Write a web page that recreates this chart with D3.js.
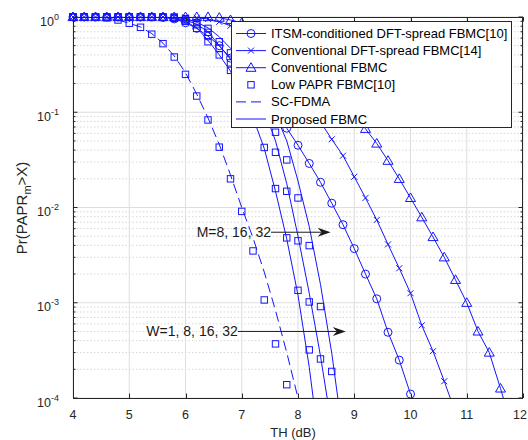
<!DOCTYPE html>
<html>
<head>
<meta charset="utf-8">
<script src="https://cdn.jsdelivr.net/npm/d3@7"></script>
<style>
  body { margin: 0; background: #fff; }
  svg { display: block; font-family: "Liberation Sans", Arial, sans-serif; }
</style>
</head>
<body>
<div id="chart"></div>
<script>
// TH (dB) sample points, every 0.2 dB; each series uses the first N of them
var thValues = [4, 4.2, 4.4, 4.6, 4.8, 5, 5.2, 5.4, 5.6, 5.8,
                6, 6.2, 6.4, 6.6, 6.8, 7, 7.2, 7.4, 7.6, 7.8,
                8, 8.2, 8.4, 8.6, 8.8, 9, 9.2, 9.4, 9.6, 9.8,
                10, 10.2, 10.4, 10.6, 10.8, 11, 11.2, 11.4, 11.6, 11.8, 12];

// Pr(PAPR_m > X)
var itsmDftFbmc = [1, 1, 1, 1, 1, 1, 1, 1, 0.99, 0.955,
                   0.87, 0.76, 0.63, 0.50, 0.37, 0.27, 0.20, 0.145, 0.10, 0.068,
                   0.045, 0.029, 0.0184, 0.0111, 0.0066, 0.0037, 0.0020, 0.0011, 0.00049, 0.00025,
                   0.00011];
var convDftFbmc = [1, 1, 1, 1, 1, 1, 1, 1, 1, 1,
                   1, 0.98, 0.955, 0.89, 0.81, 0.69, 0.56, 0.44, 0.33, 0.24,
                   0.17, 0.117, 0.079, 0.052, 0.035, 0.021, 0.0126, 0.0074, 0.0041, 0.0023,
                   0.00126, 0.00058, 0.00031, 0.00015, 0.00007];
var convFbmc = [1, 1, 1, 1, 1, 1, 1, 1, 1, 1,
                1, 1, 1, 0.985, 0.93, 0.87, 0.79, 0.71, 0.62, 0.51,
                0.42, 0.33, 0.25, 0.186, 0.135, 0.095, 0.067, 0.047, 0.031, 0.020,
                0.0126, 0.0079, 0.0049, 0.0030, 0.00174, 0.0010, 0.0005, 0.0003, 0.000126, 0.00005];
var scFdma = [1, 1, 1, 0.98, 0.93, 0.86, 0.785, 0.67, 0.53, 0.39,
              0.26, 0.155, 0.087, 0.046, 0.022, 0.010, 0.0048, 0.0021, 0.00083, 0.0003,
              0.0001];
// Low PAPR FBMC[10], W = 1, 8, 16, 32 (markers only)
var lowPaprW1 = [1, 1, 1, 0.98, 0.93, 0.86, 0.78, 0.66, 0.525, 0.38,
                 0.25, 0.148, 0.083, 0.043, 0.020, 0.0091, 0.0035, 0.00107, 0.00037, 0.000138];
var lowPaprW8 = [1, 1, 1, 1, 1, 1, 1, 1, 0.99, 0.97,
                 0.9, 0.76, 0.55, 0.40, 0.275, 0.17, 0.091, 0.0427, 0.0158, 0.0048,
                 0.00135, 0.00032];
var lowPaprW16 = [1, 1, 1, 1, 1, 1, 1, 1, 1, 0.98,
                  0.93, 0.83, 0.69, 0.47, 0.33, 0.22, 0.135, 0.078, 0.038, 0.0148,
                  0.00447, 0.00102, 0.000257];
var lowPaprW32 = [1, 1, 1, 1, 1, 1, 1, 1, 1, 1,
                  0.96, 0.87, 0.76, 0.55, 0.42, 0.30, 0.20, 0.12, 0.0617, 0.0316,
                  0.0126, 0.00398, 0.000912, 0.00019];
// Proposed FBMC, M = 8, 16, 32 (solid lines)
var proposedM8 = [1, 1, 1, 1, 1, 1, 1, 1, 0.99, 0.97,
                  0.9, 0.77, 0.57, 0.40, 0.27, 0.16, 0.088, 0.0417, 0.0148, 0.00468,
                  0.0012, 0.00021, 0.000025];
var proposedM16 = [1, 1, 1, 1, 1, 1, 1, 1, 1, 0.98,
                   0.93, 0.84, 0.70, 0.50, 0.36, 0.25, 0.17, 0.105, 0.05, 0.0178,
                   0.005, 0.00126, 0.000275, 0.00005];
var proposedM32 = [1, 1, 1, 1, 1, 1, 1, 1, 1, 1,
                   0.96, 0.88, 0.77, 0.62, 0.47, 0.34, 0.23, 0.15, 0.095, 0.05,
                   0.019, 0.0063, 0.00155, 0.000295, 0.00004];

var xTicks = [4, 5, 6, 7, 8, 9, 10, 11, 12];
var yTickExponents = [0, -1, -2, -3, -4];

var legendLabels = ["ITSM-conditioned DFT-spread FBMC[10]", "Conventional DFT-spread FBMC[14]",
                    "Conventional FBMC", "Low PAPR FBMC[10]", "SC-FDMA", "Proposed FBMC"];

// annotation arrows: label, tail TH, tip TH, probability level
var annotations = [
    {label: "M=8, 16, 32", from: 7.52, to: 8.58, p: 0.0055},
    {label: "W=1, 8, 16, 32", from: 6.93, to: 8.85, p: 0.0005}
];

var blue = "#1414ff",
    axisColor = "#262626";

var layout = {
    width: 528, height: 440,
    margin: {top: 17, right: 5, bottom: 42, left: 73}
};
var plotW = layout.width - layout.margin.left - layout.margin.right,
    plotH = layout.height - layout.margin.top - layout.margin.bottom;

var svg = d3.select("#chart").append("svg")
    .attr("width", layout.width)
    .attr("height", layout.height);

var x = d3.scaleLinear().domain([4, 12]).range([layout.margin.left, layout.margin.left + plotW]);
var y = d3.scaleLog().domain([1e-4, 1]).range([layout.margin.top + plotH, layout.margin.top]);

svg.append("defs").append("clipPath").attr("id", "plotClip")
    .append("rect")
    .attr("x", x(4)).attr("y", y(1))
    .attr("width", plotW).attr("height", plotH);

// ---- grid
var grid = svg.append("g");
var minorVals = [];
yTickExponents.slice(0, -1).forEach(function(e) {
    for (var m = 2; m <= 9; m++) minorVals.push(m * Math.pow(10, e - 1));
});
grid.selectAll(".minor").data(minorVals).enter().append("line")
    .attr("x1", x(4)).attr("x2", x(12))
    .attr("y1", d => y(d)).attr("y2", d => y(d))
    .attr("stroke", "#cdcdcd").attr("stroke-width", 0.8)
    .attr("stroke-dasharray", "1.5,2");
grid.selectAll(".vgrid").data(xTicks).enter().append("line")
    .attr("x1", d => x(d)).attr("x2", d => x(d))
    .attr("y1", y(1)).attr("y2", y(1e-4))
    .attr("stroke", "#dedede").attr("stroke-width", 1);
grid.selectAll(".hgrid").data(yTickExponents).enter().append("line")
    .attr("x1", x(4)).attr("x2", x(12))
    .attr("y1", d => y(Math.pow(10, d))).attr("y2", d => y(Math.pow(10, d)))
    .attr("stroke", "#dedede").attr("stroke-width", 1);

// ---- series
function pts(values) {
    return values.map(function(p, i) { return {th: thValues[i], p: p}; });
}
var line = d3.line().x(d => x(d.th)).y(d => y(d.p));

var curves = [
    {values: itsmDftFbmc, marker: "circle"},
    {values: convDftFbmc, marker: "cross"},
    {values: convFbmc, marker: "triangle"},
    {values: scFdma, dash: "10,5"},
    {values: proposedM8},
    {values: proposedM16},
    {values: proposedM32},
    {values: lowPaprW1, marker: "square", noLine: true},
    {values: lowPaprW8, marker: "square", noLine: true},
    {values: lowPaprW16, marker: "square", noLine: true},
    {values: lowPaprW32, marker: "square", noLine: true}
];

function drawMarker(g, type, cx, cy) {
    if (type === "circle") {
        g.append("circle").attr("cx", cx).attr("cy", cy).attr("r", 4)
            .attr("fill", "none").attr("stroke", blue).attr("stroke-width", 1);
    } else if (type === "square") {
        g.append("rect").attr("x", cx - 3.2).attr("y", cy - 3.2).attr("width", 6.4).attr("height", 6.4)
            .attr("fill", "none").attr("stroke", blue).attr("stroke-width", 1);
    } else if (type === "triangle") {
        g.append("path")
            .attr("d", "M" + cx + "," + (cy - 5) + "L" + (cx + 5) + "," + (cy + 3.6) + "L" + (cx - 5) + "," + (cy + 3.6) + "Z")
            .attr("fill", "none").attr("stroke", blue).attr("stroke-width", 1);
    } else if (type === "cross") {
        g.append("path")
            .attr("d", "M" + (cx - 3) + "," + (cy - 3) + "L" + (cx + 3) + "," + (cy + 3) +
                       "M" + (cx - 3) + "," + (cy + 3) + "L" + (cx + 3) + "," + (cy - 3))
            .attr("stroke", blue).attr("stroke-width", 1);
    }
}

var plotG = svg.append("g");
curves.forEach(function(c) {
    var data = pts(c.values);
    if (!c.noLine) {
        plotG.append("path").datum(data)
            .attr("clip-path", "url(#plotClip)")
            .attr("d", line)
            .attr("fill", "none")
            .attr("stroke", blue)
            .attr("stroke-width", 1)
            .attr("stroke-dasharray", c.dash || null);
    }
    if (c.marker) {
        data.filter(d => d.p >= 1e-4).forEach(function(d) {
            drawMarker(plotG, c.marker, x(d.th), y(d.p));
        });
    }
});

// ---- axes box and ticks
var axG = svg.append("g");
axG.append("rect")
    .attr("x", x(4) + 0.5).attr("y", y(1) + 0.5)
    .attr("width", plotW - 1).attr("height", plotH)
    .attr("fill", "none").attr("stroke", axisColor).attr("stroke-width", 1);

xTicks.forEach(function(t, i) {
    var px = Math.round(x(t)) + 0.5;
    var last = i === xTicks.length - 1;
    axG.append("line").attr("x1", px).attr("x2", px).attr("y1", y(1e-4)).attr("y2", y(1e-4) - 4.5)
        .attr("stroke", axisColor);
    axG.append("line").attr("x1", px).attr("x2", px).attr("y1", y(1)).attr("y2", y(1) + 4.5)
        .attr("stroke", axisColor);
    // the last label would run off the page edge, so pin it to the right
    axG.append("text").attr("x", last ? layout.width - 1 : x(t)).attr("y", y(1e-4) + 21)
        .attr("text-anchor", last ? "end" : "middle").attr("font-size", 12.5).attr("fill", axisColor)
        .text(t);
});
minorVals.forEach(function(v) {
    axG.append("line").attr("x1", x(4)).attr("x2", x(4) + 2.5).attr("y1", y(v)).attr("y2", y(v))
        .attr("stroke", axisColor);
    axG.append("line").attr("x1", x(12)).attr("x2", x(12) - 2.5).attr("y1", y(v)).attr("y2", y(v))
        .attr("stroke", axisColor);
});
yTickExponents.forEach(function(e) {
    var py = y(Math.pow(10, e));
    axG.append("line").attr("x1", x(4)).attr("x2", x(4) + 4.5).attr("y1", py).attr("y2", py)
        .attr("stroke", axisColor);
    axG.append("line").attr("x1", x(12)).attr("x2", x(12) - 4.5).attr("y1", py).attr("y2", py)
        .attr("stroke", axisColor);
    var t = axG.append("text").attr("x", x(4) - 14).attr("y", py + 8.5)
        .attr("text-anchor", "end").attr("font-size", 12.5).attr("fill", axisColor);
    t.append("tspan").text("10");
    t.append("tspan").attr("dy", -6).attr("font-size", 9).text(e === 0 ? "0" : "-" + (-e));
});

// axis labels
svg.append("text")
    .attr("x", 293).attr("y", 437)
    .attr("text-anchor", "middle").attr("font-size", 13).attr("fill", axisColor)
    .text("TH (dB)");
var yl = svg.append("text")
    .attr("transform", "translate(27,208) rotate(-90)")
    .attr("text-anchor", "middle").attr("font-size", 15).attr("fill", axisColor);
yl.append("tspan").text("Pr(PAPR");
yl.append("tspan").attr("dy", 4).attr("font-size", 11).text("m");
yl.append("tspan").attr("dy", -4).text(">X)");

// ---- annotations
annotations.forEach(function(a) {
    var py = y(a.p), x0 = x(a.from), x1 = x(a.to);
    svg.append("line").attr("x1", x0).attr("x2", x1 - 9).attr("y1", py).attr("y2", py)
        .attr("stroke", "#1a1a1a").attr("stroke-width", 1);
    svg.append("path")
        .attr("d", "M" + x1 + "," + py + "L" + (x1 - 13) + "," + (py - 4.5) + "L" + (x1 - 9) + "," + py +
                   "L" + (x1 - 13) + "," + (py + 4.5) + "Z")
        .attr("fill", "#1a1a1a");
    svg.append("text").attr("x", x0).attr("y", py + 5)
        .attr("text-anchor", "end").attr("font-size", 14).attr("fill", "#1a1a1a")
        .text(a.label);
});

// ---- legend
var leg = svg.append("g");
leg.append("rect").attr("x", 231.5).attr("y", 21.5).attr("width", 280).attr("height", 106)
    .attr("fill", "#fff").attr("stroke", axisColor).attr("stroke-width", 1);
var legMarkers = ["circle", "cross", "triangle", "square", null, null];
legendLabels.forEach(function(lbl, i) {
    var ly = 33.5 + i * 17.1;
    if (i !== 3) {
        leg.append("line").attr("x1", 236).attr("x2", 266).attr("y1", ly).attr("y2", ly)
            .attr("stroke", blue).attr("stroke-width", 1)
            .attr("stroke-dasharray", i === 4 ? "10,5" : null);
    }
    if (legMarkers[i]) drawMarker(leg, legMarkers[i], 251, ly);
    leg.append("text").attr("x", 271).attr("y", ly + 4.5)
        .attr("font-size", 13).attr("fill", "#000")
        .text(lbl);
});
</script>
</body>
</html>
